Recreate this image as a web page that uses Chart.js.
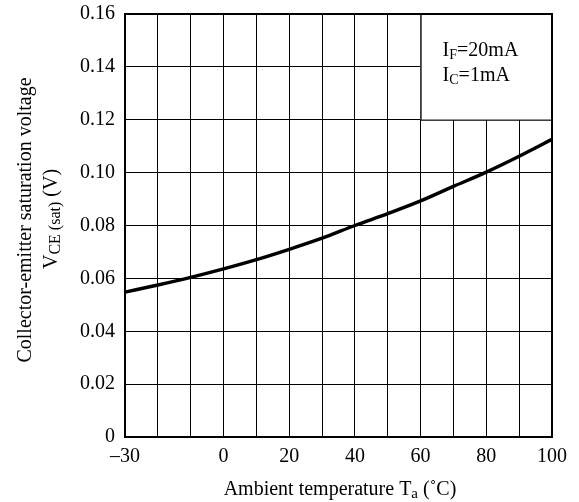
<!DOCTYPE html>
<html><head><meta charset="utf-8">
<script src="https://cdn.jsdelivr.net/npm/chart.js@4"></script>
<style>html,body{margin:0;padding:0;background:#fff}#wrap{width:579px;height:502px}</style>
</head><body><div id="wrap"><canvas id="c" width="579" height="502"></canvas></div>
<script>
const temperatures = [-30, -20, -10, 0, 10, 20, 30, 40, 50, 60, 70, 80, 90, 100];
const vceSat = [0.0548, 0.0575, 0.0604, 0.0636, 0.0671, 0.0710, 0.0752, 0.0800, 0.0845, 0.0893, 0.0948, 0.1002, 0.1062, 0.1126];
const xLabelValues = [-30, 0, 20, 40, 60, 80, 100];
const yTickValues = [0, 0.02, 0.04, 0.06, 0.08, 0.10, 0.12, 0.14, 0.16];
const noteLines = [[['I', 0], ['F', 0.7], ['=20mA', 0]], [['I', 0], ['C', 0.7], ['=1mA', 0]]];
const noteBox = {xMin: 60, xMax: 100, yMin: 0.12, yMax: 0.16};

const FONT = '"Liberation Serif", "Times New Roman", serif';
const FS = 20;

function drawSegs(ctx, segs, x, y, align) {
  const fontOf = s => (s[1] ? FS * s[1] : FS) + 'px ' + FONT;
  const widths = segs.map(s => { ctx.font = fontOf(s); return ctx.measureText(s[0]).width; });
  const total = widths.reduce((a, b) => a + b, 0);
  let cx = align === 'center' ? x - total / 2 : x;
  ctx.textBaseline = 'alphabetic';
  ctx.textAlign = 'left';
  segs.forEach((s, i) => {
    ctx.font = fontOf(s);
    ctx.fillText(s[0], cx, s[1] ? y + 3 : y);
    cx += widths[i];
  });
}

const overlay = {
  id: 'overlay',
  beforeDatasetsDraw(chart) {
    const {ctx, scales: {x, y}} = chart;
    const l = x.getPixelForValue(noteBox.xMin), r = x.getPixelForValue(noteBox.xMax);
    const t = y.getPixelForValue(noteBox.yMax), b = y.getPixelForValue(noteBox.yMin);
    ctx.save();
    ctx.fillStyle = '#fff';
    ctx.fillRect(l, t, r - l, b - t);
    ctx.strokeStyle = '#000';
    ctx.lineWidth = 1;
    ctx.strokeRect(l + 0.5, t, r - l, b - t + 0.5);
    ctx.fillStyle = '#000';
    drawSegs(ctx, noteLines[0], l + 22, t + 42, 'left');
    drawSegs(ctx, noteLines[1], l + 22, t + 67, 'left');
    ctx.restore();
  },
  afterDraw(chart) {
    const {ctx, chartArea: a} = chart;
    ctx.save();
    ctx.strokeStyle = '#000';
    ctx.lineWidth = 2;
    ctx.strokeRect(a.left, a.top, a.right - a.left, a.bottom - a.top);
    ctx.fillStyle = '#000';
    // x title
    drawSegs(ctx, [['Ambient temperature T', 0], ['a', 0.75], [' (\u02DAC)', 0]], 340, 495, 'center');
    // y title
    ctx.translate(31, 220);
    ctx.rotate(-Math.PI / 2);
    drawSegs(ctx, [['Collector-emitter saturation voltage', 0]], 0, 0, 'center');
    drawSegs(ctx, [['V', 0], ['CE (sat)', 0.8], [' (V)', 0]], 1, 26, 'center');
    ctx.restore();
  }
};

new Chart(document.getElementById('c'), {
  type: 'line',
  data: {
    datasets: [{
      data: temperatures.map((t, i) => ({x: t, y: vceSat[i]})),
      borderColor: '#000',
      borderWidth: 3.4,
      pointRadius: 0,
      cubicInterpolationMode: 'monotone',
      fill: false
    }]
  },
  options: {
    responsive: false,
    animation: false,
    devicePixelRatio: 1,
    layout: {padding: {top: 14, right: 27, left: 0, bottom: 0}},
    plugins: {legend: {display: false}, tooltip: {enabled: false}},
    scales: {
      x: {
        type: 'linear', min: -30, max: 100,
        afterFit: s => { s.height = 65; s.paddingLeft = 0; s.paddingRight = 0; },
        afterBuildTicks: s => { s.ticks = temperatures.map(v => ({value: v})); },
        grid: {color: '#000', lineWidth: 1, drawTicks: false},
        border: {display: false},
        ticks: {
          autoSkip: false, maxRotation: 0, padding: 8, color: '#000',
          font: {family: FONT, size: FS},
          callback: v => xLabelValues.includes(v) ? (v < 0 ? '\u2013' + Math.abs(v) : String(v)) : ''
        }
      },
      y: {
        min: 0, max: 0.16,
        afterFit: s => { s.width = 125; s.paddingTop = 0; s.paddingBottom = 0; },
        afterBuildTicks: s => { s.ticks = yTickValues.map(v => ({value: v})); },
        grid: {color: '#000', lineWidth: 1, drawTicks: false},
        border: {display: false},
        ticks: {
          padding: 10, color: '#000',
          font: {family: FONT, size: FS},
          callback: v => v === 0 ? '0' : v.toFixed(2)
        }
      }
    }
  },
  plugins: [overlay]
});
</script></body></html>
